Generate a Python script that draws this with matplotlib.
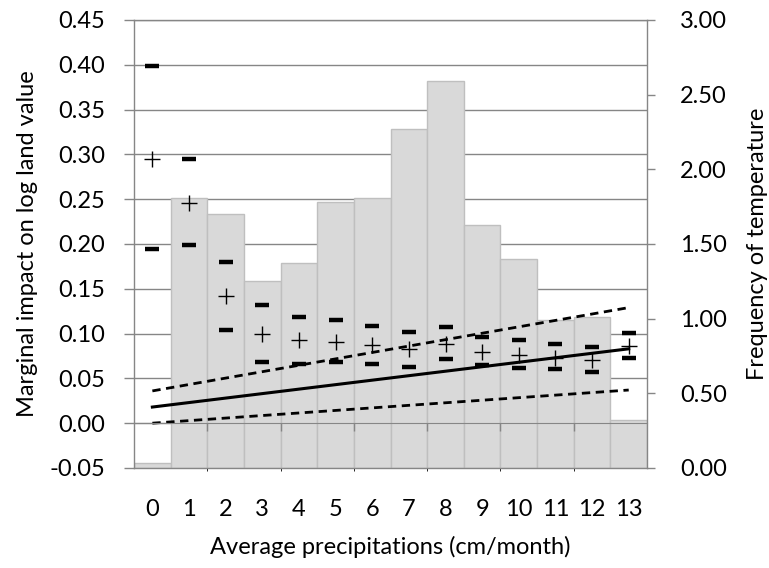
import matplotlib.pyplot as plt
import numpy as np

plt.rcParams['font.family'] = ['Lato', 'DejaVu Sans']

# precipitation bins (cm/month)
cats = list(range(14))
cat_labels = [str(c) for c in cats]

# frequency histogram (right axis)
freq = [0.03, 1.81, 1.70, 1.25, 1.37, 1.78, 1.81, 2.27, 2.59, 1.63, 1.40, 0.99, 1.01, 0.32]

# marginal impact per bin: point estimate and bounds (left axis)
est = [0.295, 0.246, 0.142, 0.099, 0.093, 0.091, 0.087, 0.083, 0.088, 0.079, 0.076, 0.073, 0.071, 0.086]
upper = [0.399, 0.295, 0.180, 0.132, 0.119, 0.115, 0.109, 0.102, 0.107, 0.096, 0.093, 0.088, 0.085, 0.101]
lower = [0.194, 0.199, 0.104, 0.068, 0.066, 0.068, 0.066, 0.063, 0.072, 0.065, 0.062, 0.060, 0.057, 0.073]

# linear specification, values at first and last bin
fit_x = [0, 13]
fit = [0.018, 0.083]
fit_hi = [0.036, 0.129]
fit_lo = [0.000, 0.037]

grey = '#868686'

fig = plt.figure(figsize=(7.69, 5.68), dpi=100)
pos = [0.1743, 0.1761, 0.6671, 0.7887]

# base axes: left scale + gridlines (sits behind the bars)
ax = fig.add_axes(pos)
ax.set_xlim(-0.5, 13.5)
ax.set_ylim(-0.05, 0.45)
ax.set_yticks(np.arange(-0.05, 0.451, 0.05))
ax.yaxis.set_major_formatter(plt.FormatStrFormatter('%.2f'))
ax.grid(axis='y', color=grey, lw=1)
ax.set_xticks(cats)
ax.set_xticklabels(cat_labels)
ax.tick_params(axis='x', length=0, pad=22, labelsize=17)
ax.tick_params(axis='y', length=7, color=grey, width=1, pad=14, labelsize=17)
for s in ax.spines.values():
    s.set_visible(False)
ax.set_xlabel('Average precipitations (cm/month)', fontsize=17, labelpad=12)
ax.set_ylabel('Marginal impact on log land value', fontsize=17, labelpad=8)

# histogram on the right scale
ax2 = ax.twinx()
ax2.bar(cats, freq, width=1.0, color='#d9d9d9', edgecolor='#bfbfbf', lw=1)
ax2.set_ylim(0, 3.0)
ax2.set_yticks(np.arange(0, 3.01, 0.5))
ax2.yaxis.set_major_formatter(plt.FormatStrFormatter('%.2f'))
ax2.tick_params(axis='y', length=6, color=grey, width=1, pad=18, labelsize=17)
for s in ax2.spines.values():
    s.set_color(grey)
    s.set_linewidth(1)
ax2.set_ylabel('Frequency of temperature', fontsize=17, labelpad=14)

# top layer: estimates and fitted lines on the left scale
ax3 = fig.add_axes(pos, sharex=ax, sharey=ax)
ax3.patch.set_visible(False)
for k in ['top', 'left', 'right']:
    ax3.spines[k].set_visible(False)
ax3.spines['bottom'].set_position(('data', 0))
ax3.spines['bottom'].set_color(grey)
ax3.tick_params(axis='x', which='minor', length=6, color=grey, width=1, direction='out')
ax3.tick_params(axis='x', which='major', length=0, labelbottom=False)
ax3.set_xticks(np.arange(1.5, 13, 2), minor=True)
ax3.tick_params(axis='y', left=False, labelleft=False)

ax3.plot(fit_x, fit, color='black', lw=2.2)
ax3.plot(fit_x, fit_hi, color='black', lw=2, ls=(0, (3, 2)))
ax3.plot(fit_x, fit_lo, color='black', lw=2, ls=(0, (3, 2)))
ax3.plot(cats, upper, ls='none', marker='_', ms=10, mew=3.2, color='black')
ax3.plot(cats, lower, ls='none', marker='_', ms=10, mew=3.2, color='black')
ax3.plot(cats, est, ls='none', marker='+', ms=12, mew=1.0, color='black')

fig.savefig('out.png', dpi=100)
